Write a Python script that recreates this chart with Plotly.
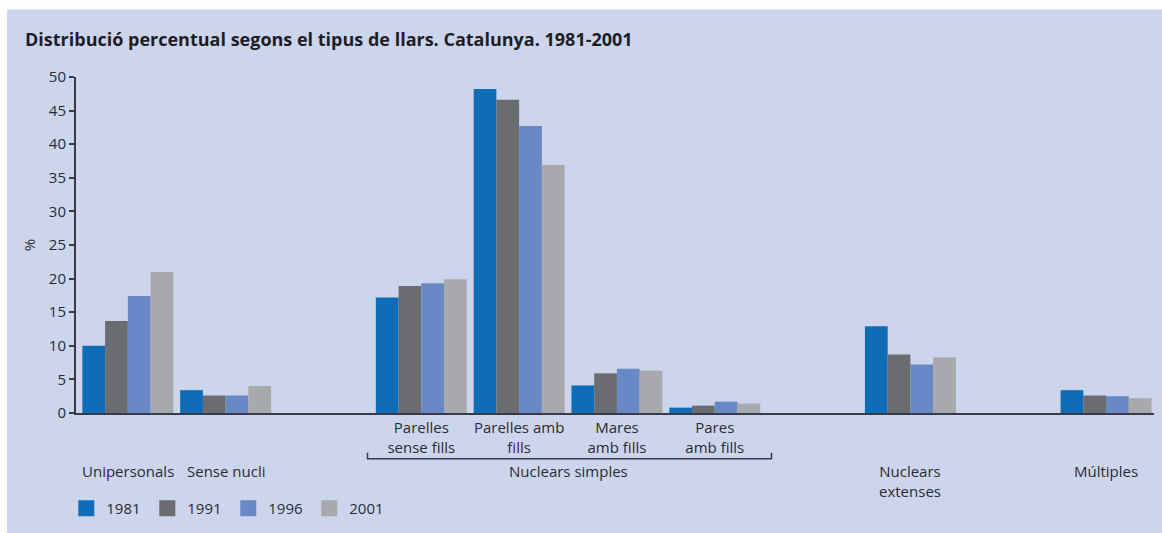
import plotly.graph_objects as go

# data
categories = ["Unipersonals", "Sense nucli", " ",
              "Parelles sense fills", "Parelles amb fills", "Mares amb fills", "Pares amb fills",
              "  ", "Nuclears extenses", "   ", "Múltiples"]
years = ["1981", "1991", "1996", "2001"]
v1981 = [10.0, 3.4, None, 17.2, 48.2, 4.1, 0.8, None, 12.9, None, 3.4]
v1991 = [13.7, 2.6, None, 18.9, 46.6, 5.9, 1.1, None, 8.7, None, 2.6]
v1996 = [17.4, 2.6, None, 19.3, 42.7, 6.6, 1.7, None, 7.2, None, 2.5]
v2001 = [21.0, 4.0, None, 19.9, 36.9, 6.3, 1.4, None, 8.3, None, 2.2]

sub_labels = ["Parelles<br>sense fills", "Parelles amb<br>fills", "Mares<br>amb fills", "Pares<br>amb fills"]
sub_cats = categories[3:7]
group_labels = {"Unipersonals": "Unipersonals", "Sense nucli": "Sense nucli",
                "Parelles amb fills": "Nuclears simples",
                "Nuclears extenses": "Nuclears<br>extenses", "Múltiples": "Múltiples"}

colors = ["#0f6cb6", "#6b6c70", "#6889c6", "#a8a9ad"]
FONT = "Open Sans"
TXT = "#2b2b33"

fig = go.Figure()
for yr, vals, col in zip(years, [v1981, v1991, v1996, v2001], colors):
    fig.add_trace(go.Bar(x=categories, y=vals, name=yr, marker_color=col,
                         marker_line_width=0, showlegend=False))
    # legend squares
    fig.add_trace(go.Scatter(x=[None], y=[None], mode="markers", name=yr,
                             marker=dict(symbol="square", size=16, color=col)))

# panel background
fig.add_shape(type="rect", xref="paper", yref="paper", x0=-0.064, x1=1.02, y0=-0.37, y1=1.2007,
              fillcolor="#cdd5ec", line_width=0, layer="below")

# bracket under Nuclears simples
by = -0.136
fig.add_shape(type="path", xref="x", yref="paper",
              path=f"M 2.45,{by+0.018} L 2.45,{by} L 6.58,{by} L 6.58,{by+0.018}",
              line=dict(color="#3a3a44", width=1.5))

for cat, lab in group_labels.items():
    x = cat
    if lab == "Nuclears simples":
        x = 4.5
    fig.add_annotation(x=x, xref="x", y=-0.137, yref="paper", text=lab, showarrow=False,
                       yanchor="top", font=dict(size=15, color=TXT, family=FONT))

fig.update_layout(
    width=1162, height=533,
    paper_bgcolor="white", plot_bgcolor="rgba(0,0,0,0)",
    margin=dict(l=76, r=8, t=77, b=120),
    barmode="group", bargap=0.07, bargroupgap=0,
    font=dict(family=FONT, color=TXT, size=15),
    title=dict(text="<b>Distribució percentual segons el tipus de llars. Catalunya. 1981-2001</b>",
               x=25 / 1162, xanchor="left", y=1 - 40 / 533, yanchor="middle",
               font=dict(size=18, color="#1e1e26", family=FONT)),
    xaxis=dict(range=[-0.53, 10.49], showgrid=False, zeroline=False,
               showline=True, linecolor="#3a3a44", linewidth=2,
               ticks="", tickmode="array", tickvals=sub_cats, ticktext=sub_labels,
               tickfont=dict(size=15, color=TXT)),
    yaxis=dict(range=[0, 50], dtick=5, showgrid=False, zeroline=False,
               showline=True, linecolor="#3a3a44", linewidth=2,
               ticks="outside", ticklen=5, tickcolor="#3a3a44", tickwidth=1.5,
               tickfont=dict(size=15, color=TXT),
               title=dict(text="%", font=dict(size=15, color=TXT), standoff=10)),
    legend=dict(orientation="h", x=-0.009, xanchor="left", y=-0.284, yanchor="middle",
                bgcolor="rgba(0,0,0,0)", font=dict(size=15, color=TXT),
                entrywidth=36, entrywidthmode="pixels", itemclick=False),
)

fig.write_html("out.html", config={"displayModeBar": False},
               post_script="document.body.style.margin='0';")
